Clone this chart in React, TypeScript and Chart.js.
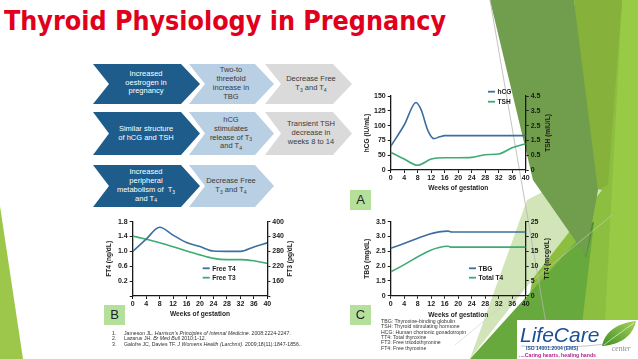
import React, { useEffect, useLayoutEffect, useRef } from "react";
import { Chart, registerables } from "chart.js";
Chart.register(...registerables);

// ---------------- Data ----------------
const weekTicks = [0, 4, 8, 12, 16, 20, 24, 28, 32, 36, 40];

// Chart A: hCG and TSH
const hcgWeeks = [0, 4, 7.5, 9, 11, 12.8, 14.5, 16, 20, 24, 28, 32, 36, 40];
const hcgValues = [65, 101, 139, 127, 92, 78, 81, 83, 83, 83, 83, 83, 83, 83];
const tshWeeks = [0, 4, 8, 12, 16, 20, 24, 28, 32, 36, 40];
const tshValues = [0.7, 0.24, -0.18, 0.24, 0.33, 0.33, 0.35, 0.53, 0.58, 1.0, 1.28];
const hcgTickValues = [25, 50, 75, 100, 125, 150];
const hcgTickLabels = ["0", "50", "75", "100", "125", "150"];
const tshTickValues = [-0.5, 0.5, 1.5, 2.5, 3.5, 4.5];
const tshTickLabels = ["0", "0.5", "1.5", "2.5", "3.5", "4.5"];

// Chart B: Free T4 and Free T3
const ftWeeks = [0, 4, 8, 12, 16, 20, 24, 28, 32, 36, 40];
const ft4Values = [1.0, 1.33, 1.65, 1.44, 1.24, 1.13, 1.01, 1.0, 1.0, 1.12, 1.23];
const ft3Values = [342, 329, 315, 299, 282, 266, 252, 247, 247, 242, 231];
const ft4TickValues = [-0.2, 0.2, 0.6, 1.0, 1.4, 1.8];
const ft4TickLabels = ["", "0.2", "0.6", "1.0", "1.4", "1.8"];
const ft3TickValues = [100, 160, 220, 280, 340, 400];
const ft3TickLabels = ["", "160", "220", "280", "340", "400"];

// Chart C: TBG and Total T4
const tbgWeeks = [0, 17, 18, 40];
const tbgValues = [2.6, 3.18, 3.15, 3.15];
const tt4Weeks = [0, 17, 18, 40];
const tt4Values = [8.1, 16.7, 16.4, 16.4];
const tbgTickValues = [1.0, 1.5, 2.0, 2.5, 3.0, 3.5];
const tbgTickLabels = ["0", "1.5", "2.0", "2.5", "3.0", "3.5"];
const tt4TickValues = [0, 5, 10, 15, 20, 25];
const tt4TickLabels = ["0", "5", "10", "15", "20", "25"];

// ---------------- Styling helpers ----------------
const FONT = '"Liberation Sans", Arial, sans-serif';
const BLUE = "#3c6f9f";
const GREEN = "#3dab72";
const AXIS = "#1a1a1a";
const tickFont = { family: FONT, size: 7, weight: "bold" as const };

function yAxis(position: string, values: number[], labels: string[], width: number) {
  return {
    type: "linear",
    position,
    min: values[0],
    max: values[values.length - 1],
    afterBuildTicks: (s: any) => {
      s.ticks = values.map((v) => ({ value: v }));
    },
    afterFit: (s: any) => {
      s.width = width;
    },
    ticks: { callback: (_v: any, i: number) => labels[i], font: tickFont, color: AXIS, padding: 2 },
    grid: { drawOnChartArea: false, drawTicks: true, tickLength: 3, color: AXIS, lineWidth: 1 },
    border: { color: AXIS, width: 1.3 },
  };
}

function xAxis(height: number) {
  return {
    type: "linear",
    min: 0,
    max: 40,
    afterBuildTicks: (s: any) => {
      s.ticks = weekTicks.map((v) => ({ value: v }));
    },
    afterFit: (s: any) => {
      s.height = height;
    },
    ticks: { font: tickFont, color: AXIS, padding: 1, maxRotation: 0, autoSkip: false },
    grid: { drawOnChartArea: false, drawTicks: true, tickLength: 3, color: AXIS, lineWidth: 1 },
    border: { color: AXIS, width: 1.3 },
  };
}

function line(label: string, xs: number[], ys: number[], color: string, axis: string) {
  return {
    label,
    data: xs.map((x, i) => ({ x, y: ys[i] })),
    borderColor: color,
    backgroundColor: color,
    borderWidth: 1.6,
    pointRadius: 0,
    cubicInterpolationMode: "monotone",
    yAxisID: axis,
    fill: false,
  };
}

const decorPlugin = {
  id: "decor",
  afterDraw(chart: any, _a: any, o: any) {
    const { ctx, chartArea: a } = chart;
    ctx.save();
    ctx.fillStyle = "#1e1e1e";
    ctx.font = `bold ${o.size}px ${FONT}`;
    ctx.textAlign = "center";
    ctx.textBaseline = "middle";
    const midY = (a.top + a.bottom) / 2;
    const rot = (text: string, x: number) => {
      ctx.save();
      ctx.translate(x, midY);
      ctx.rotate(-Math.PI / 2);
      ctx.fillText(text, 0, 0);
      ctx.restore();
    };
    rot(o.leftTitle, a.left - o.leftDx);
    rot(o.rightTitle, a.right + o.rightDx);
    ctx.fillText(o.xTitle, (a.left + a.right) / 2, a.bottom + o.xDy);
    ctx.textAlign = "left";
    chart.data.datasets.forEach((ds: any, i: number) => {
      const x = a.left + o.legDx;
      const y = a.top + o.legDy + i * o.legGap;
      ctx.strokeStyle = ds.borderColor;
      ctx.lineWidth = 1.8;
      ctx.beginPath();
      ctx.moveTo(x, y);
      ctx.lineTo(x + 7, y);
      ctx.stroke();
      ctx.fillText(ds.label, x + 9.5, y + 0.5);
    });
    ctx.restore();
  },
};

function makeChart(canvas: HTMLCanvasElement, datasets: any[], yL: any, yR: any, xH: number, topPad: number, decor: any) {
  return new Chart(canvas, {
    type: "line",
    data: { datasets },
    options: {
      responsive: false,
      animation: false,
      events: [],
      layout: { padding: { top: topPad, left: 0, right: 0, bottom: 0 } },
      scales: { x: xAxis(xH), y: yL, y1: yR } as any,
      plugins: { legend: { display: false }, tooltip: { enabled: false }, decor } as any,
    },
    plugins: [decorPlugin],
  } as any);
}

// ---------------- Slide pieces ----------------
const DARK = "#1d5c8b";
const LIGHT = "#b9cfe4";
const GRAY = "#dadada";

function chevron(x0: number, x1: number, top: number, bot: number) {
  const mid = (top + bot) / 2;
  const d = 19;
  const n = 16;
  return `${x0},${top} ${x1},${top} ${x1 + d},${mid} ${x1},${bot} ${x0},${bot} ${x0 + n},${mid}`;
}

const chevrons = [
  { x0: 93, x1: 181, top: 64, bot: 104, fill: DARK },
  { x0: 189, x1: 255, top: 64, bot: 104, fill: LIGHT },
  { x0: 265, x1: 333, top: 64, bot: 104, fill: GRAY },
  { x0: 93, x1: 181, top: 112, bot: 155, fill: DARK },
  { x0: 189, x1: 255, top: 112, bot: 155, fill: LIGHT },
  { x0: 265, x1: 333, top: 112, bot: 155, fill: GRAY },
  { x0: 93, x1: 181, top: 165, bot: 207, fill: DARK },
  { x0: 189, x1: 255, top: 165, bot: 207, fill: LIGHT },
];

const bgShapes = [
  { pts: "575,0 638,0 638,359 520,359", fill: "#8cbf3f" },
  { pts: "622,0 638,0 638,359 603,359", fill: "#99ca46" },
  { pts: "574,0 622,0 608,185 598,190", fill: "#86b23b" },
  { pts: "527,200 562,182 602,190 470,359", fill: "#d1e5b8" },
  { pts: "470,359 594,222 578,359", fill: "#68a93d" },
  { pts: "573,226 594,222 586,258", fill: "#4f8e2f" },
  { pts: "490,0 574,0 598,190 586,256 533,180", fill: "#709e4c" },
  { pts: "0,206 0,359 23,359", fill: "#9dc74a" },
];

const S = ({ c }: { c: string }) => (
  <span style={{ fontSize: "5px", position: "relative", top: "1.5px" }}>{c}</span>
);

function Box({ cx, top, bot, color, children }: any) {
  return (
    <div
      style={{
        position: "absolute",
        left: cx - 45,
        width: 90,
        top,
        height: bot - top,
        display: "flex",
        alignItems: "center",
        justifyContent: "center",
        textAlign: "center",
        fontFamily: FONT,
        fontSize: "7.5px",
        lineHeight: "8.8px",
        color,
        whiteSpace: "nowrap",
      }}
    >
      <div>{children}</div>
    </div>
  );
}

function Letter({ x, y, t }: { x: number; y: number; t: string }) {
  return (
    <div
      style={{
        position: "absolute",
        left: x,
        top: y,
        width: 21,
        height: 20,
        background: "#b4e09c",
        fontFamily: FONT,
        fontSize: "13px",
        lineHeight: "20px",
        textAlign: "center",
        color: "#222",
      }}
    >
      {t}
    </div>
  );
}

export default function App() {
  const refA = useRef<HTMLCanvasElement>(null);
  const refB = useRef<HTMLCanvasElement>(null);
  const refC = useRef<HTMLCanvasElement>(null);
  const titleRef = useRef<HTMLSpanElement>(null);

  useLayoutEffect(() => {
    const fit = () => {
      const el = titleRef.current;
      if (!el) return;
      el.style.transform = "none";
      const w = el.getBoundingClientRect().width;
      if (w > 0) el.style.transform = `scaleX(${442 / w})`;
    };
    fit();
    (document as any).fonts?.ready?.then(fit);
  }, []);

  useEffect(() => {
    const a = makeChart(
      refA.current!,
      [line("hCG", hcgWeeks, hcgValues, BLUE, "y"), line("TSH", tshWeeks, tshValues, GREEN, "y1")],
      yAxis("left", hcgTickValues, hcgTickLabels, 38.7),
      yAxis("right", tshTickValues, tshTickLabels, 36.3),
      28,
      10,
      { size: 6.6, leftTitle: "hCG (IU/mL)", rightTitle: "TSH (mIU/L)", xTitle: "Weeks of gestation", leftDx: 24, rightDx: 22.3, xDy: 18.3, legDx: 97.3, legDy: -4.3, legGap: 10 }
    );
    const b = makeChart(
      refB.current!,
      [line("Free T4", ftWeeks, ft4Values, BLUE, "y"), line("Free T3", ftWeeks, ft3Values, GREEN, "y1")],
      yAxis("left", ft4TickValues, ft4TickLabels, 36.7),
      yAxis("right", ft3TickValues, ft3TickLabels, 38.7),
      26,
      9.7,
      { size: 6.6, leftTitle: "FT4 (ng/dL)", rightTitle: "FT3 (pg/dL)", xTitle: "Weeks of gestation", leftDx: 23.7, rightDx: 22.7, xDy: 18, legDx: 70, legDy: 46.6, legGap: 9.4 }
    );
    const c = makeChart(
      refC.current!,
      [line("TBG", tbgWeeks, tbgValues, BLUE, "y"), line("Total T4", tt4Weeks, tt4Values, GREEN, "y1")],
      yAxis("left", tbgTickValues, tbgTickLabels, 38.7),
      yAxis("right", tt4TickValues, tt4TickLabels, 36.3),
      26.3,
      9.7,
      { size: 6.6, leftTitle: "TBG (mg/dL)", rightTitle: "TT4 (mcg/dL)", xTitle: "Weeks of gestation", leftDx: 23.7, rightDx: 21, xDy: 19, legDx: 78.3, legDy: 46.6, legGap: 9.4 }
    );
    return () => {
      a.destroy();
      b.destroy();
      c.destroy();
    };
  }, []);

  const txt = "#3a3a3a";
  return (
    <div style={{ position: "fixed", left: 0, top: 0, width: 638, height: 359, overflow: "hidden", background: "#fff" }}>
      <svg width={638} height={359} style={{ position: "absolute", left: 0, top: 0 }}>
        {bgShapes.map((s, i) => (
          <polygon key={i} points={s.pts} fill={s.fill} />
        ))}
        <line x1={490} y1={0} x2={548} y2={335} stroke="#b4b4b4" strokeWidth={0.8} />
        <line x1={455} y1={345} x2={612} y2={215} stroke="#cfcfcf" strokeWidth={0.6} />
        {chevrons.map((c, i) => (
          <polygon key={"c" + i} points={chevron(c.x0, c.x1, c.top, c.bot)} fill={c.fill} />
        ))}
      </svg>

      <div style={{ position: "absolute", left: 4, top: 3, height: 36, whiteSpace: "nowrap" }}>
        <span
          ref={titleRef}
          style={{
            display: "inline-block",
            transformOrigin: "0 0",
            fontFamily: '"DejaVu Sans", sans-serif',
            fontWeight: "bold",
            fontSize: "27px",
            lineHeight: "36px",
            color: "#e1001b",
          }}
        >
          Thyroid Physiology in Pregnancy
        </span>
      </div>

      {/* Flow diagram texts */}
      <Box cx={146} top={64} bot={102} color="#fff">Increased<br />oestrogen in<br />pregnancy</Box>
      <Box cx={231} top={64} bot={104} color={txt}>Two-to<br />threefold<br />increase in<br />TBG</Box>
      <Box cx={311} top={64} bot={104} color={txt}>Decrease Free<br />T<S c="3" /> and T<S c="4" /></Box>
      <Box cx={146} top={112} bot={155} color="#fff">Similar structure<br />of hCG and TSH</Box>
      <Box cx={231} top={112} bot={155} color={txt}>hCG<br />stimulates<br />release of T<S c="3" /><br />and T<S c="4" /></Box>
      <Box cx={311} top={112} bot={155} color={txt}>Transient TSH<br />decrease in<br />weeks 8 to 14</Box>
      <Box cx={146} top={165} bot={207} color="#fff">Increased<br />peripheral<br />metabolism of &nbsp;T<S c="3" /><br />and T<S c="4" /></Box>
      <Box cx={231} top={165} bot={207} color={txt}>Decrease Free<br />T<S c="3" /> and T<S c="4" /></Box>

      <canvas ref={refA} width={210} height={112} style={{ position: "absolute", left: 352, top: 86 }} />
      <canvas ref={refB} width={210} height={110} style={{ position: "absolute", left: 96, top: 212 }} />
      <canvas ref={refC} width={210} height={110} style={{ position: "absolute", left: 352, top: 212 }} />

      <Letter x={350} y={190} t="A" />
      <Letter x={104} y={305} t="B" />
      <Letter x={350} y={305} t="C" />

      {/* References */}
      <div style={{ position: "absolute", left: 112, top: 330.5, fontFamily: FONT, fontSize: "5.2px", lineHeight: "5.5px", color: "#333", whiteSpace: "nowrap" }}>
        <div><span style={{ display: "inline-block", width: 12 }}>1.</span>Jameson JL. <i>Harrison's Principles of Internal Medicine.</i> 2008:2224-2247.</div>
        <div><span style={{ display: "inline-block", width: 12 }}>2.</span>Lazarus JH. <i>Br Med Bull</i> 2010;1-12.</div>
        <div><span style={{ display: "inline-block", width: 12 }}>3.</span>Galofre JC, Davies TF. <i>J Womens Health (Larchmt).</i> 2009;18(11):1847-1856..</div>
      </div>

      {/* Abbreviations */}
      <div style={{ position: "absolute", left: 381, top: 319, fontFamily: FONT, fontSize: "5.2px", lineHeight: "5.33px", color: "#333", whiteSpace: "nowrap" }}>
        <div>TBG: Thyroxine-binding globulin</div>
        <div>TSH: Thyroid stimulating hormone</div>
        <div>HCG: Human chorionic gonadotropin</div>
        <div>TT4: Total thyroxine</div>
        <div>FT3: Free triiodothyronine</div>
        <div>FT4: Free thyroxine</div>
      </div>

      {/* Logo */}
      <div style={{ position: "absolute", left: 517, top: 320, width: 121, height: 39, background: "#fff" }} />
      <svg width={638} height={359} style={{ position: "absolute", left: 0, top: 0 }}>
        <defs>
          <linearGradient id="leaf" x1="0" y1="1" x2="1" y2="0">
            <stop offset="0" stopColor="#3f8f25" />
            <stop offset="1" stopColor="#a8d25a" />
          </linearGradient>
        </defs>
        <path d="M602,346 C605,331 618,323 636,321 C633,336 620,345 602,346 Z" fill="url(#leaf)" />
        <path d="M604,345 C614,337 624,330 634,323" stroke="#e8f3d8" strokeWidth={0.7} fill="none" />
        <path d="M521,346 C550,348 585,347 604,344" stroke="#9a9a9a" strokeWidth={0.6} fill="none" />
      </svg>
      <div style={{ position: "absolute", left: 520, top: 323, fontFamily: FONT, fontStyle: "italic", fontSize: "21px", lineHeight: "24px", color: "#1b4f96", whiteSpace: "nowrap" }}>LifeCare</div>
      <div style={{ position: "absolute", left: 612, top: 345, fontFamily: '"Liberation Serif", serif', fontStyle: "italic", fontSize: "7.5px", lineHeight: "8px", color: "#8a8a8a" }}>center</div>
      <div style={{ position: "absolute", left: 526, top: 346, fontFamily: FONT, fontWeight: "bold", fontSize: "5px", lineHeight: "5.5px", color: "#1b4f96", whiteSpace: "nowrap" }}>ISO 14001:2004 (EMS)</div>
      <div style={{ position: "absolute", left: 519, top: 352, fontFamily: FONT, fontWeight: "bold", fontSize: "5.2px", lineHeight: "6px", color: "#b8208c", whiteSpace: "nowrap" }}>....Caring hearts, healing hands</div>
    </div>
  );
}
